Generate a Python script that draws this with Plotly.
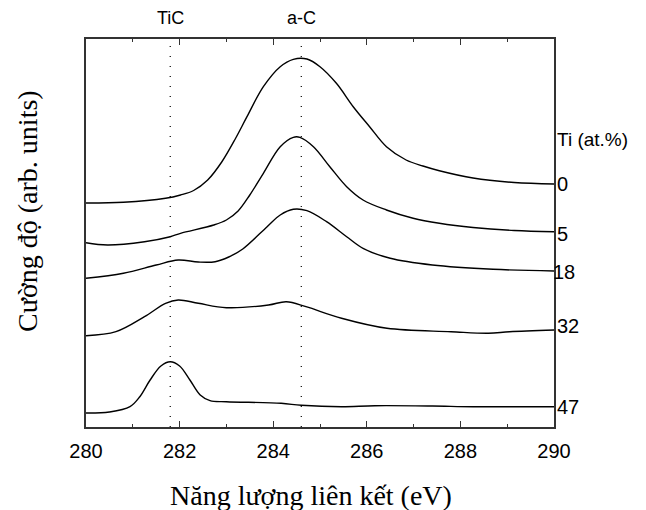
import plotly.graph_objects as go

# Binding energy (eV) and intensity (arb. units)
x_ti0 = [280, 280.8, 281.7, 282.02, 282.3, 282.6, 282.9, 283.2, 283.44, 283.79, 284.15, 284.43,
         284.72, 285.0, 285.35, 285.71, 286.06, 286.42, 286.84, 287.2, 287.55, 288.27, 289.15, 290]
y_ti0 = [224, 224.7, 228.7, 232, 236.5, 247, 265, 289, 310.3, 340.3, 360.3, 367.7,
         368, 360.3, 343.7, 320.3, 300.3, 280.3, 267, 261, 256.3, 249, 244.5, 243]

x_ti5 = [280, 280.46, 281.25, 281.8, 282.02, 282.73, 283.0, 283.25, 283.5, 283.79, 284.15, 284.43,
         284.57, 284.86, 285.21, 285.57, 285.92, 286.42, 286.99, 287.55, 288.27, 289.15, 290]
y_ti5 = [184.3, 182, 185.3, 190.3, 193.7, 202, 207, 216, 232, 253.7, 280.3, 289.7,
         289.7, 280.3, 260.3, 240.3, 227, 217, 208.7, 203.7, 199.5, 196.5, 195.3]

x_ti18 = [280, 280.8, 281.5, 281.97, 282.4, 282.76, 283.05, 283.35, 283.87, 284.15, 284.43,
          284.72, 285.14, 285.57, 285.92, 286.5, 287.4, 288.7, 290]
y_ti18 = [148.7, 153.7, 162, 167, 165, 165.3, 170, 178, 200.3, 212, 217.7,
          216.3, 205.3, 190.3, 178.7, 168.7, 162, 157.7, 156]

x_ti32 = [280, 280.64, 281.25, 281.7, 281.97, 282.4, 283.0, 283.9, 284.28, 284.7, 285.46,
          286.43, 287.8, 288.6, 289.05, 290]
y_ti32 = [91.3, 95.3, 110.3, 123.7, 127, 123.7, 119.3, 122, 125.3, 120.3, 108.7,
          98.7, 95.3, 93.7, 95.3, 97]

x_ti47 = [280, 280.5, 280.94, 281.15, 281.37, 281.6, 281.8, 282.0, 282.22, 282.44, 282.65,
          283.0, 284.17, 284.6, 285.46, 286.17, 287.4, 288.27, 290]
y_ti47 = [14, 15, 20.3, 30.3, 47, 61, 65.3, 61, 47, 32, 26.3,
          25.3, 23.7, 21.7, 20.3, 21.3, 21, 20.3, 20.3]

series_x = [x_ti0, x_ti5, x_ti18, x_ti32, x_ti47]
series_y = [y_ti0, y_ti5, y_ti18, y_ti32, y_ti47]
series_labels = ["0", "5", "18", "32", "47"]
label_y = [243, 193, 155, 101, 20]

peak_names = ["TiC", "a-C"]
peak_pos = [281.8, 284.6]

x_ticks = [280, 282, 284, 286, 288, 290]

x_title = "Năng lượng liên kết (eV)"
y_title = "Cường độ (arb. units)"

fig = go.Figure()
for xs, ys, name in zip(series_x, series_y, series_labels):
    fig.add_trace(go.Scatter(x=xs, y=ys, mode="lines", name=name,
                             line=dict(color="black", width=1.4, shape="spline", smoothing=1.0),
                             showlegend=False, hoverinfo="skip"))

for name, pos in zip(peak_names, peak_pos):
    fig.add_shape(type="line", x0=pos, x1=pos, y0=0, y1=1, xref="x", yref="paper",
                  line=dict(color="black", width=1.2, dash="1px,9px"), layer="below")
    fig.add_annotation(x=pos, y=1.055, xref="x", yref="paper", text=name, showarrow=False,
                       font=dict(family="Liberation Sans", size=18, color="black"),
                       xanchor="center", yanchor="middle")

for lab, ly in zip(series_labels, label_y):
    fig.add_annotation(x=1, y=ly, xref="paper", yref="y", text=lab, showarrow=False,
                       font=dict(family="Liberation Sans", size=20, color="black"),
                       xanchor="left", yanchor="middle", xshift=(-3 if lab == "18" else 1))

fig.add_annotation(x=1, y=288, xref="paper", yref="y", text="Ti (at.%)", showarrow=False,
                   font=dict(family="Liberation Sans", size=19, color="black"),
                   xanchor="left", yanchor="middle", xshift=1)

# axis titles
fig.add_annotation(x=0.481, y=0, xref="paper", yref="paper", text=x_title, showarrow=False,
                   font=dict(family="Liberation Serif", size=28, color="black"),
                   xanchor="center", yanchor="middle", yshift=-68)
fig.add_annotation(x=0, y=0.557, xref="paper", yref="paper", text=y_title, showarrow=False,
                   textangle=-90,
                   font=dict(family="Liberation Serif", size=28, color="black"),
                   xanchor="center", yanchor="middle", xshift=-58)

fig.update_layout(
    width=646, height=510,
    margin=dict(l=86, r=92, t=39, b=83, autoexpand=False),
    paper_bgcolor="white", plot_bgcolor="white",
    xaxis=dict(range=[280, 290], tickvals=x_ticks, ticks="inside", ticklen=6, tickwidth=1,
               tickcolor="#333", showline=True, linecolor="#333", linewidth=1.5,
               mirror="allticks", showgrid=False, zeroline=False, automargin=False,
               minor=dict(dtick=1, ticks="inside", ticklen=3, tickcolor="#333", showgrid=False),
               tickfont=dict(family="Liberation Sans", size=20, color="black"),
               ticklabelstandoff=5),
    yaxis=dict(range=[0, 388], showticklabels=False, ticks="", showline=True,
               linecolor="#333", linewidth=1.5, mirror=True, showgrid=False, zeroline=False,
               automargin=False),
)

fig.write_html("out.html")
